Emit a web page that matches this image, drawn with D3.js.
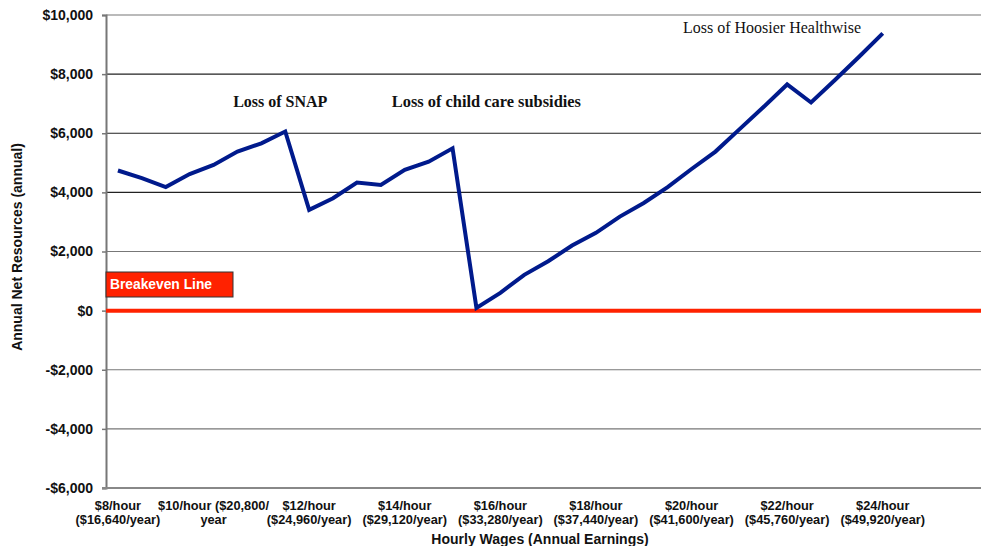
<!DOCTYPE html>
<html>
<head>
<meta charset="utf-8">
<script src="https://cdn.jsdelivr.net/npm/d3@7"></script>
<style>
  body { margin: 0; background: #fff; }
  svg { display: block; }
</style>
</head>
<body>
<svg></svg>
<script>
// hourly wage categories, $8 to $26 in 50 cent steps
let wages = [8, 8.5, 9, 9.5, 10, 10.5, 11, 11.5, 12, 12.5, 13, 13.5, 14, 14.5, 15, 15.5,
             16, 16.5, 17, 17.5, 18, 18.5, 19, 19.5, 20, 20.5, 21, 21.5, 22, 22.5, 23, 23.5, 24,
             24.5, 25, 25.5, 26];

// annual net resources (one per wage up to $24)
let netResources = [4740, 4480, 4180, 4620, 4930, 5380, 5660, 6060, 3410, 3800, 4330, 4250,
                    4760, 5040, 5490, 90, 600, 1210, 1670, 2200, 2630, 3180, 3640, 4180, 4790,
                    5380, 6130, 6880, 7650, 7040, 7800, 8580, 9380];

let tickWages = [8, 10, 12, 14, 16, 18, 20, 22, 24];
let tickLabels = [
  ['$8/hour', '($16,640/year)'],
  ['$10/hour ($20,800/', 'year'],
  ['$12/hour', '($24,960/year)'],
  ['$14/hour', '($29,120/year)'],
  ['$16/hour', '($33,280/year)'],
  ['$18/hour', '($37,440/year)'],
  ['$20/hour', '($41,600/year)'],
  ['$22/hour', '($45,760/year)'],
  ['$24/hour', '($49,920/year)']
];
let yTicks = [-6000, -4000, -2000, 0, 2000, 4000, 6000, 8000, 10000];

// text notes placed at a wage / value position
let notes = [
  { text: 'Loss of SNAP', wage: 10.41, value: 6880, bold: true, size: 16 },
  { text: 'Loss of child care subsidies', wage: 13.73, value: 6900, bold: true, size: 16.4 },
  { text: 'Loss of Hoosier Healthwise', wage: 19.82, value: 9400, bold: false, size: 16 }
];

let w = 981;
let h = 546;
let padL = 106;
let padT = 15;
let padB = 488;
let band = 23.9;

let svg = d3.select('svg').attr('width', w).attr('height', h);

let xSc = d3.scaleBand()
            .domain(wages)
            .range([padL, padL + wages.length * band]);
let ySc = d3.scaleLinear()
            .domain([-6000, 10000])
            .range([padB, padT]);

let cx = d => xSc(d) + xSc.bandwidth() / 2;
let padR = xSc.range()[1];
// continuous wage position, for the notes
let wageX = d3.scaleLinear()
              .domain([wages[0], wages[wages.length - 1]])
              .range([cx(wages[0]), cx(wages[wages.length - 1])]);

// gridlines
svg.append('g')
   .selectAll('line')
   .data(yTicks.filter(t => t !== -6000 && t !== 0))
   .enter()
   .append('line')
   .attr('x1', padL)
   .attr('x2', padR)
   .attr('y1', d => ySc(d))
   .attr('y2', d => ySc(d))
   .attr('stroke', d => (d === 10000 || d < 4000) ? '#777' : '#222')
   .attr('stroke-width', 1.2);

// y axis
let yAxis = d3.axisLeft(ySc)
              .tickValues(yTicks)
              .tickSize(4)
              .tickFormat(d => (d < 0 ? '-' : '') + '$' + d3.format(',')(Math.abs(d)));
let yg = svg.append('g')
            .attr('transform', 'translate(' + padL + ',0)')
            .call(yAxis);
yg.select('.domain').attr('stroke', '#777').attr('stroke-width', 2);
yg.selectAll('.tick line').attr('stroke', '#777').attr('stroke-width', 1.5);
yg.selectAll('.tick text')
  .attr('x', -13)
  .attr('font-family', 'Liberation Sans, Arial, sans-serif')
  .attr('font-weight', 'bold')
  .attr('font-size', 14)
  .attr('fill', '#111');

// x axis line
svg.append('line')
   .attr('x1', padL - 4)
   .attr('x2', padR)
   .attr('y1', padB)
   .attr('y2', padB)
   .attr('stroke', '#888')
   .attr('stroke-width', 2);

// x tick labels
let xl = svg.append('g')
            .selectAll('text')
            .data(tickWages)
            .enter()
            .append('text')
            .attr('x', d => cx(d))
            .attr('y', 510)
            .attr('text-anchor', 'middle')
            .attr('font-family', 'Liberation Sans, Arial, sans-serif')
            .attr('font-weight', 'bold')
            .attr('font-size', 12.8)
            .attr('fill', '#111');
xl.each(function (d, i) {
  let t = d3.select(this);
  tickLabels[i].forEach((line, j) => {
    t.append('tspan').attr('x', cx(d)).attr('dy', j === 0 ? 0 : 14).text(line);
  });
});

// breakeven line
svg.append('line')
   .attr('x1', padL)
   .attr('x2', padR)
   .attr('y1', ySc(0))
   .attr('y2', ySc(0))
   .attr('stroke', '#ff2200')
   .attr('stroke-width', 4);

svg.append('rect')
   .attr('x', padL)
   .attr('y', 272)
   .attr('width', 127)
   .attr('height', 25)
   .attr('fill', '#ff2200')
   .attr('stroke', '#333')
   .attr('stroke-width', 1);
svg.append('text')
   .attr('x', 110)
   .attr('y', 289)
   .attr('font-family', 'Liberation Sans, Arial, sans-serif')
   .attr('font-weight', 'bold')
   .attr('font-size', 13.8)
   .attr('fill', '#fff')
   .text('Breakeven Line');

// data line
let line = d3.line()
             .x((d, i) => cx(wages[i]))
             .y(d => ySc(d));
svg.append('path')
   .datum(netResources)
   .attr('d', line)
   .attr('fill', 'none')
   .attr('stroke', '#001a8c')
   .attr('stroke-width', 4)
   .attr('stroke-linejoin', 'miter');

// annotations
svg.append('g')
   .selectAll('text')
   .data(notes)
   .enter()
   .append('text')
   .attr('x', d => wageX(d.wage))
   .attr('y', d => ySc(d.value))
   .attr('font-family', 'Liberation Serif, DejaVu Serif, serif')
   .attr('font-weight', d => d.bold ? 'bold' : 'normal')
   .attr('font-size', d => d.size)
   .attr('fill', '#111')
   .text(d => d.text);

// axis titles
svg.append('text')
   .attr('transform', 'translate(22,' + 247 + ') rotate(-90)')
   .attr('text-anchor', 'middle')
   .attr('font-family', 'Liberation Sans, Arial, sans-serif')
   .attr('font-weight', 'bold')
   .attr('font-size', 14)
   .attr('fill', '#111')
   .text('Annual Net Resources (annual)');

svg.append('text')
   .attr('x', 540)
   .attr('y', 544)
   .attr('text-anchor', 'middle')
   .attr('font-family', 'Liberation Sans, Arial, sans-serif')
   .attr('font-weight', 'bold')
   .attr('font-size', 14)
   .attr('fill', '#111')
   .text('Hourly Wages (Annual Earnings)');
</script>
</body>
</html>
